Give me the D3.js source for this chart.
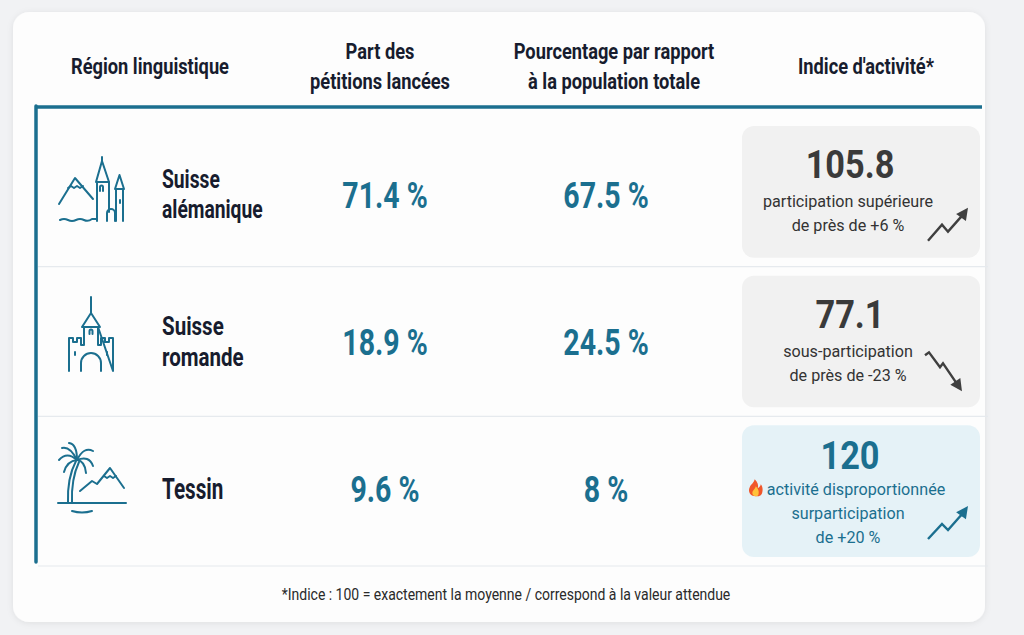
<!DOCTYPE html>
<html>
<head>
<meta charset="utf-8">
<script src="https://cdn.jsdelivr.net/npm/d3@7"></script>
<style>
  body { margin: 0; background: #f1f2f4; }
  svg { display: block; }
  text { font-family: "Roboto", "Noto Sans", sans-serif; }
</style>
</head>
<body>
<script>
// data
const regions = ["Suisse alémanique", "Suisse romande", "Tessin"];
const regionLines = [["Suisse", "alémanique"], ["Suisse", "romande"], ["Tessin"]];
const partPetitions = [71.4, 18.9, 9.6];
const partPopulation = [67.5, 24.5, 8];
const indice = [105.8, 77.1, 120];
const indiceText = [
  ["participation supérieure", "de près de +6 %"],
  ["sous-participation", "de près de -23 %"],
  ["activité disproportionnée", "surparticipation", "de +20 %"]
];
const headers = [["Région linguistique"], ["Part des", "pétitions lancées"], ["Pourcentage par rapport", "à la population totale"], ["Indice d'activité*"]];
const footnote = "*Indice : 100 = exactement la moyenne / correspond à la valeur attendue";

const W = 1024, H = 635;
const teal = "#1b6f8f";
const ink = "#171c2e";

const svg = d3.select('body').append('svg')
    .attr('width', W)
    .attr('height', H);

// narrow look: the reference uses a condensed face
const at = (x, y, sx) => `translate(${x},${y}) scale(${sx},1)`;

const defs = svg.append('defs');
const f = defs.append('filter').attr('id', 'sh').attr('x', '-5%').attr('y', '-5%').attr('width', '110%').attr('height', '110%');
f.append('feDropShadow').attr('dx', 0).attr('dy', 1).attr('stdDeviation', 3).attr('flood-color', '#000').attr('flood-opacity', 0.08);

// card
svg.append('rect')
    .attr('x', 13).attr('y', 12).attr('width', 972).attr('height', 610)
    .attr('rx', 16).attr('fill', '#fdfdfd')
    .attr('filter', 'url(#sh)');

// scales
const y = d3.scaleBand().domain(regions).range([117, 566]);       // row bands (separators, boxes)
const yc = d3.scalePoint().domain(regions).range([194, 488]);     // row content centres
const colX = d3.scaleOrdinal().domain([0, 1, 2, 3]).range([150, 380, 614, 866]);
const valX = d3.scaleOrdinal().domain([1, 2]).range([385, 606]);

// headers
headers.forEach((lines, i) => {
  const y0 = lines.length === 1 ? 74 : 59;
  const t = svg.append('text')
      .attr('transform', at(colX(i), y0, 0.83))
      .attr('text-anchor', 'middle')
      .attr('font-size', 22).attr('font-weight', 700)
      .attr('fill', ink);
  lines.forEach((l, j) => {
    t.append('tspan').attr('x', 0).attr('y', j * 30).text(l);
  });
});

// row separators
svg.selectAll('line.sep')
  .data(regions)
  .enter().append('line')
    .attr('class', 'sep')
    .attr('x1', 38).attr('x2', 988)
    .attr('y1', d => y(d) + y.bandwidth())
    .attr('y2', d => y(d) + y.bandwidth())
    .attr('stroke', '#e6eaee').attr('stroke-width', 1.2);

// blue frame lines
svg.append('line').attr('x1', 35).attr('x2', 982).attr('y1', 107).attr('y2', 107)
    .attr('stroke', teal).attr('stroke-width', 3.5);
svg.append('line').attr('x1', 36).attr('x2', 36).attr('y1', 106).attr('y2', 562)
    .attr('stroke', teal).attr('stroke-width', 3.5).attr('stroke-linecap', 'round');

const rows = svg.selectAll('g.row')
  .data(regions)
  .enter().append('g')
    .attr('class', 'row');

// icons
const iconPaths = [
  // alps + castle
  ["M1,46 L17,20 L35,41",
   "M10,30 L13,28 L16,30 L19,28 L22,30 L25,28",
   "M38,24 L44,3 L51,24 Z", "M44,3 L44,-1",
   "M39,24 L39,63", "M51,24 L51,54",
   "M42,33 L42,29 A1.5,1.5 0 0 1 45,29 L45,33",
   "M49,63 L49,55 A4,4 0 0 1 57,55 L57,63",
   "M57,31 L61.5,17 L66,31 Z",
   "M58,31 L58,63", "M65,31 L65,63", "M62,42 L62,45",
   "M2,62 Q6,60 10,62 T18,62 T26,62 T34,61 L38,61"],
  // castle
  ["M24,0 L24,16", "M15,30 L24,16 L33,30 Z",
   "M2,74 L2,41 L6,41 L6,45 L10,45 L10,41 L14,41 L14,48 L17,48 L17,30 M31,30 L31,48 L34,48 L34,41 L38,41 L38,45 L42,45 L42,41 L46,41 L46,74 Z",
   "M22.5,37 L22.5,34 A1.5,1.5 0 0 1 25.5,34 L25.5,37",
   "M14,74 L14,66 A10,10 0 0 1 34,66 L34,74",
   "M8,55 L8,58", "M40,55 L40,58"],
  // palm + mountains
  ["M0,60 L68,60", "M14,68 Q24,71 34,68",
   "M10,60 Q9,35 18,18", "M14,60 Q13,36 21,19",
   "M19,17 Q9,8 1,17", "M19,17 Q12,3 4,5", "M19,17 Q19,1 11,0",
   "M19,17 Q26,3 35,8", "M19,17 Q31,12 35,23", "M19,17 Q27,18 28,30", "M19,17 Q9,18 6,29",
   "M22,48 L34,38 L39,41 L52,25 L66,45",
   "M46,33 L49,35 L52,33 L55,35 L58,33"]
];
const iconTop = [-36, -44, -45];

rows.append('g')
    .attr('transform', (d, i) => `translate(${i === 1 ? 67 : 58},${yc(d) + iconTop[i]})`)
    .each(function(d, i) {
      d3.select(this).selectAll('path')
        .data(iconPaths[i])
        .enter().append('path')
          .attr('d', p => p)
          .attr('fill', 'none')
          .attr('stroke', teal)
          .attr('stroke-width', 2)
          .attr('stroke-linejoin', 'round')
          .attr('stroke-linecap', 'round');
    });

// region labels
const labelSize = [25, 26, 30];
const labelScale = [0.77, 0.79, 0.69];
rows.append('text')
    .attr('font-size', (d, i) => labelSize[i]).attr('font-weight', 700).attr('fill', ink)
    .attr('transform', (d, i) => {
      const n = regionLines[i].length;
      const y0 = yc(d) + labelSize[i] * 0.36 - (n - 1) * 15.5;
      return at(162, y0, labelScale[i]);
    })
    .each(function(d, i) {
      regionLines[i].forEach((l, j) => {
        d3.select(this).append('tspan').attr('x', 0).attr('y', j * 31).text(l);
      });
    });

// values
const fmt = v => (Number.isInteger(v) ? v : v.toFixed(1)) + " %";
[partPetitions, partPopulation].forEach((arr, k) => {
  rows.append('text')
      .attr('transform', (d, i) => at(valX(k + 1), yc(d) + 13.5, 0.77))
      .attr('text-anchor', 'middle')
      .attr('font-size', 37).attr('font-weight', 700)
      .attr('fill', teal)
      .text((d, i) => fmt(arr[i]));
});

// index boxes
const boxX0 = 742, boxX1 = 980;
const boxFill = v => v >= 110 ? "#e5f2f7" : "#f1f1f1";
const numColor = v => v >= 110 ? teal : "#3a3a3a";

rows.append('rect')
    .attr('x', boxX0).attr('width', boxX1 - boxX0)
    .attr('y', d => y(d) + 9)
    .attr('height', y.bandwidth() - 18)
    .attr('rx', 12)
    .attr('fill', (d, i) => boxFill(indice[i]));

const textCx = 848;
rows.each(function(d, i) {
  const g = d3.select(this);
  const cy = y(d) + y.bandwidth() / 2;
  const n = indiceText[i].length;
  const numY = cy - 12 - n * 8;
  const col = numColor(indice[i]);
  g.append('text')
      .attr('transform', at(textCx + 2, numY + 14, 0.88))
      .attr('text-anchor', 'middle')
      .attr('font-size', 39).attr('font-weight', 700)
      .attr('fill', col)
      .text(indice[i]);
  indiceText[i].forEach((l, j) => {
    const lx = textCx - (i === 2 && j === 0 ? -8 : 0);
    const ly = numY + 37 + (n === 3 ? -3 : 0) + j * 24 + 6;
    const t = g.append('text')
        .attr('transform', at(lx, ly, 0.95))
        .attr('text-anchor', 'middle')
        .attr('font-size', 17)
        .attr('fill', i === 2 ? teal : '#333')
        .text(l);
    if (i === 2 && j === 0) {
      // flame before the first line
      const w = t.node().getComputedTextLength() * 0.95;
      const fx = lx - w / 2 - 11;
      const fy = ly + 1;
      g.append('path')
          .attr('transform', `translate(${fx},${fy})`)
          .attr('d', "M0,0 C-6,0 -8,-5 -6,-9 C-5,-12 -2,-13 -1,-17 C2,-14 3,-11 2,-8 C4,-9 5,-11 5,-12 C8,-9 7,-2 5,-1 C4,0 2,0 0,0 Z")
          .attr('fill', '#f0562a');
      g.append('path')
          .attr('transform', `translate(${fx},${fy})`)
          .attr('d', "M0,0 C-3,0 -4,-3 -3,-5 C-2,-7 0,-8 0,-10 C2,-8 3,-6 3,-4 C3,-1 2,0 0,0 Z")
          .attr('fill', '#ffc23a');
    }
  });
});

// trend arrows
const arrows = [
  [[-52, -17], [-38, -33], [-32, -26], [-17, -43], [-12, -50]],
  [[-55, -52], [-51, -55], [-40, -40], [-37, -44], [-22, -22], [-18, -16]],
  [[-52, -18], [-38, -33], [-32, -27], [-17, -44], [-12, -51]]
];
const line = d3.line();
rows.each(function(d, i) {
  const g = d3.select(this);
  const bx = boxX1, by = y(d) + y.bandwidth() - 9;
  const pts = arrows[i].map(p => [bx + p[0], by + p[1]]);
  const col = i === 2 ? teal : '#3f3f3f';
  const tip = pts[pts.length - 1];
  const prev = pts[pts.length - 2];
  const ang = Math.atan2(tip[1] - prev[1], tip[0] - prev[0]);
  const L = 12, Wd = 6;
  const base = [tip[0] - L * Math.cos(ang), tip[1] - L * Math.sin(ang)];
  g.append('path')
      .attr('d', line(pts.slice(0, -1).concat([base])))
      .attr('fill', 'none').attr('stroke', col).attr('stroke-width', 2.4)
      .attr('stroke-linejoin', 'miter');
  const h = [tip,
    [base[0] + Wd * Math.sin(ang), base[1] - Wd * Math.cos(ang)],
    [base[0] - Wd * Math.sin(ang), base[1] + Wd * Math.cos(ang)]];
  g.append('path').attr('d', line(h) + 'Z').attr('fill', col);
});

// footnote
svg.append('text')
    .attr('transform', at(506, 600, 0.875))
    .attr('text-anchor', 'middle')
    .attr('font-size', 16)
    .attr('fill', '#2a2a2a')
    .text(footnote);
</script>
</body>
</html>
